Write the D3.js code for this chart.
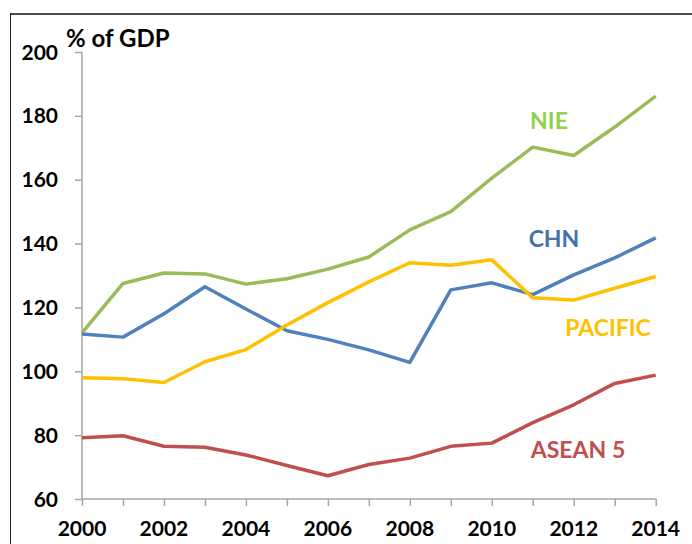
<!DOCTYPE html>
<meta charset="utf-8">
<script src="https://d3js.org/d3.v7.min.js"></script>
<style>
  body { margin: 0; background: #fff; }
  text { font-family: Lato, "Open Sans", sans-serif; font-weight: bold; }
</style>
<div id="chart"></div>
<script>

// years along the x axis
var years = [2000, 2001, 2002, 2003, 2004, 2005, 2006, 2007, 2008, 2009, 2010, 2011, 2012, 2013, 2014];

// series values, % of GDP
var nie     = [112, 127.5, 130.8, 130.5, 127.3, 129, 132, 135.8, 144.3, 150, 160.5, 170.2, 167.6, 176.5, 186.2];
var chn     = [111.7, 110.7, 118, 126.5, 119.5, 112.7, 110, 106.7, 102.8, 125.5, 127.7, 124, 130.2, 135.5, 141.8];
var pacific = [98, 97.7, 96.5, 103, 106.8, 114.5, 121.5, 128, 134, 133.2, 134.9, 123, 122.3, 126, 129.7];
var asean5  = [79.2, 79.8, 76.5, 76.2, 73.8, 70.5, 67.3, 70.8, 72.8, 76.5, 77.5, 83.9, 89.5, 96.2, 98.8];

var yTicks = [60, 80, 100, 120, 140, 160, 180, 200];
var xTicks = [2000, 2002, 2004, 2006, 2008, 2010, 2012, 2014];

var series = [
  {name: "NIE",     values: nie,     color: "#9BBB59", labelColor: "#92D050", lx: 549, ly: 121},
  {name: "CHN",     values: chn,     color: "#4F81BD", labelColor: "#4472A8", lx: 554, ly: 239},
  {name: "PACIFIC", values: pacific, color: "#FFC000", labelColor: "#FFC000", lx: 608, ly: 328},
  {name: "ASEAN 5", values: asean5,  color: "#C0504D", labelColor: "#C0504D", lx: 578, ly: 450}
];

var width = 692, height = 544;

var svg = d3.select("#chart")
  .append("svg")
    .attr("width", width)
    .attr("height", height);

// outer frame (top + left edges only are visible)
svg.append("line")
  .attr("x1", 10).attr("x2", width).attr("y1", 14).attr("y2", 14)
  .attr("stroke", "#4d4d4d").attr("stroke-width", 2);
svg.append("line")
  .attr("x1", 10.5).attr("x2", 10.5).attr("y1", 13).attr("y2", height)
  .attr("stroke", "#222").attr("stroke-width", 1);

var x = d3.scaleLinear().domain([2000, 2014]).range([82, 655.7]);
var y = d3.scaleLinear().domain([60, 200]).range([499, 52]);

// x axis: minor ticks every year, labels every two years
var xAxis = svg.append("g")
  .attr("transform", "translate(0," + y(60) + ")")
  .call(d3.axisBottom(x).tickValues(years).tickSize(7).tickFormat(""));
xAxis.selectAll("line, path").attr("stroke", "#a6a6a6").attr("stroke-width", 1.5);
xAxis.select(".domain").attr("d", "M" + x(2000) + ",0H" + x(2014));

svg.append("g").selectAll("text")
  .data(xTicks)
  .enter().append("text")
    .attr("x", function (d) { return x(d); })
    .attr("y", 536)
    .attr("text-anchor", "middle")
    .attr("font-size", 21)
    .attr("fill", "#000")
    .text(function (d) { return d; });

// y axis
var yAxis = svg.append("g")
  .attr("transform", "translate(" + x(2000) + ",0)")
  .call(d3.axisLeft(y).tickValues(yTicks).tickSize(7).tickFormat(""));
yAxis.selectAll("line, path").attr("stroke", "#a6a6a6").attr("stroke-width", 1.5);
yAxis.select(".domain").attr("d", "M0," + y(200) + "V" + y(60));

svg.append("g").selectAll("text")
  .data(yTicks)
  .enter().append("text")
    .attr("x", 58)
    .attr("y", function (d) { return y(d) + 7.5; })
    .attr("text-anchor", "end")
    .attr("font-size", 21)
    .attr("fill", "#000")
    .text(function (d) { return d; });

svg.append("text")
  .attr("x", 66)
  .attr("y", 47)
  .attr("font-size", 24)
  .attr("fill", "#000")
  .text("% of GDP");

// lines
var line = d3.line()
  .x(function (d, i) { return x(years[i]); })
  .y(function (d) { return y(d); });

svg.append("g").selectAll("path")
  .data(series)
  .enter().append("path")
    .attr("d", function (d) { return line(d.values); })
    .attr("fill", "none")
    .attr("stroke", function (d) { return d.color; })
    .attr("stroke-width", 3.5)
    .attr("stroke-linejoin", "round");

// series labels
svg.append("g").selectAll("text")
  .data(series)
  .enter().append("text")
    .attr("x", function (d) { return d.lx; })
    .attr("y", function (d) { return d.ly + 8; })
    .attr("text-anchor", "middle")
    .attr("font-size", 23)
    .attr("fill", function (d) { return d.labelColor; })
    .text(function (d) { return d.name; });

</script>
